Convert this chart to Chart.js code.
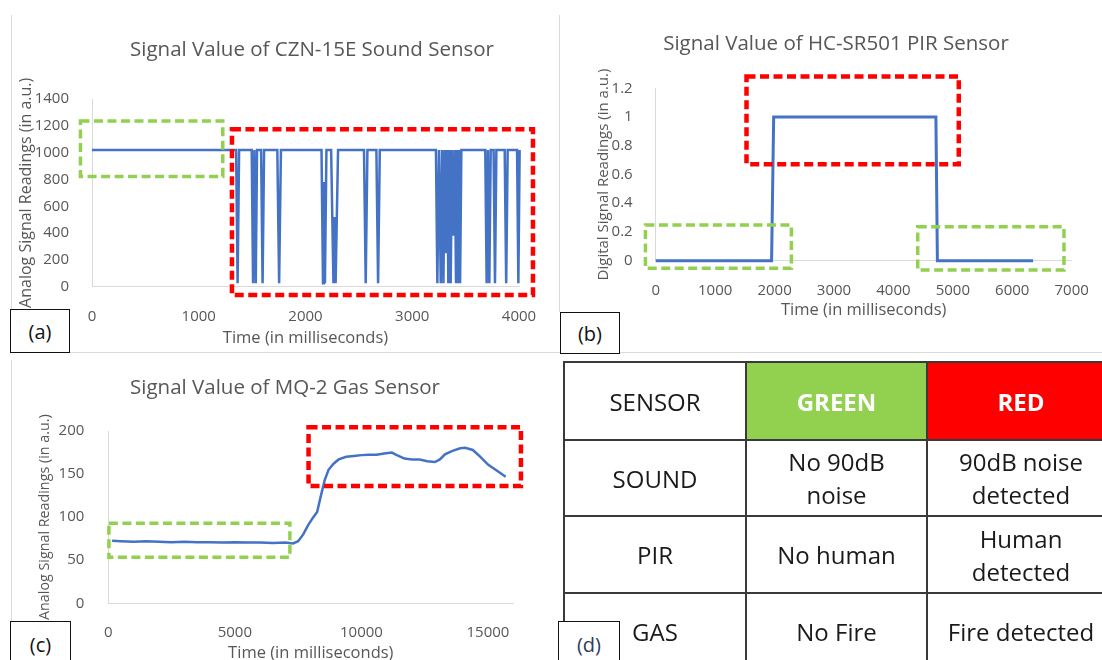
<!DOCTYPE html>
<html>
<head>
<meta charset="utf-8">
<script src="https://cdn.jsdelivr.net/npm/chart.js@4.4.1/dist/chart.umd.min.js"></script>
<style>
  body { margin: 0; width: 1102px; height: 660px; overflow: hidden; background: #fff; position: relative; font-family: "Open Sans", sans-serif; }
  canvas { position: absolute; }
  .rule { position: absolute; background: #d9d9d9; }
  .tag { position: absolute; box-sizing: border-box; border: 1.5px solid #111; background: #fff; font-size: 20px; color: #111;
         display: flex; align-items: center; justify-content: center; }
  table { position: absolute; left: 563px; top: 361px; width: 551px; border-collapse: collapse; table-layout: fixed; }
  td { border: 2px solid #3a3a3a; padding: 0; text-align: center; vertical-align: middle; font-size: 24px; line-height: 33px; color: #1a1a1a; }
  td.green { background: #92d050; color: #fff; font-weight: bold; }
  td.red { background: #ff0000; color: #fff; font-weight: bold; }
</style>
</head>
<body>
<div class="rule" style="left:11px;top:15px;width:1px;height:295px"></div>
<div class="rule" style="left:10px;top:352px;width:1092px;height:1px"></div>
<div class="rule" style="left:559px;top:15px;width:1px;height:297px"></div>
<div class="rule" style="left:11px;top:360px;width:1px;height:262px"></div>

<canvas id="soundChart"></canvas>
<canvas id="pirChart"></canvas>
<canvas id="gasChart"></canvas>
<table id="stateTable"></table>

<div class="tag" style="left:10px;top:309px;width:60px;height:44px">(a)</div>
<div class="tag" style="left:560px;top:312px;width:60px;height:42px">(b)</div>
<div class="tag" style="left:10px;top:621px;width:61px;height:50px;padding-bottom:4px">(c)</div>
<div class="tag" style="left:558px;top:621px;width:62px;height:50px;padding-bottom:4px;color:#2e3b63">(d)</div>

<script>
// sound sensor (a): time in ms, analog reading
const soundTime = [0, 1350, 1364, 1378,
  1496, 1509, 1521, 1534, 1546, 1584, 1598, 1612,
  1736, 1753, 1770,
  2150, 2164, 2172, 2182, 2196,
  2240, 2262, 2270, 2282, 2305,
  2548, 2564, 2580,
  2664, 2680, 2696,
  3222, 3235, 3251, 3267, 3280, 3292, 3304, 3316, 3327, 3338, 3349, 3360, 3373, 3385, 3398, 3410, 3421, 3432, 3440, 3448, 3460,
  3684, 3697, 3709, 3722, 3735,
  3762, 3775, 3788,
  3866, 3880, 3894,
  3982, 3994, 4006];
const soundValue = [1020, 1020, 25, 1020,
  1020, 25, 1020, 25, 1020, 1020, 25, 1020,
  1020, 25, 1020,
  1020, 25, 780, 25, 1020,
  1020, 25, 520, 25, 1020,
  1020, 25, 1020,
  1020, 25, 1020,
  1020, 25, 1020, 25, 1020, 25, 1020, 250, 1020, 25, 1020, 25, 1020, 380, 1020, 25, 1020, 25, 1020, 25, 1020,
  1020, 25, 1020, 25, 1020,
  1020, 25, 1020,
  1020, 25, 1020,
  1020, 25, 1020];

// PIR sensor (b): digital reading
const pirTime = [0, 1950, 1985, 4715, 4740, 6350];
const pirValue = [0, 0, 1, 1, 0, 0];

// gas sensor (c): analog reading
const gasTime = [150, 500, 1000, 1500, 2000, 2500, 3000, 3500, 4000, 4500, 5000, 5500, 6000, 6500, 7000, 7300,
  7500, 7700, 7900, 8100, 8250, 8400, 8550, 8700, 8900, 9100, 9400, 9700, 10000, 10300, 10600, 10900,
  11200, 11400, 11700, 12000, 12300, 12600, 12900, 13100, 13300, 13600, 13900, 14100, 14400, 14700, 15000, 15300, 15700];
const gasValue = [72.5, 72, 71.5, 72, 71.5, 71, 71.5, 71, 71, 70.5, 71, 70.5, 70.5, 70, 70.5, 69.5,
  72, 80, 91, 100, 106, 125, 143, 155, 162, 167, 170, 171, 172, 172.5, 172.5, 174,
  175, 172, 168, 167, 167, 165, 164, 167, 173, 177, 180, 180.5, 178, 170, 161, 155, 147];

// axis ticks
const soundXTicks = [0, 1000, 2000, 3000, 4000];
const soundYTicks = [0, 200, 400, 600, 800, 1000, 1200, 1400];
const pirXTicks = [0, 1000, 2000, 3000, 4000, 5000, 6000, 7000];
const pirYTicks = [0, 0.2, 0.4, 0.6, 0.8, 1, 1.2];
const gasXTicks = [0, 5000, 10000, 15000];
const gasYTicks = [0, 50, 100, 150, 200];

// highlight boxes: [xMin, xMax, yMin, yMax] in data units
const soundGreenBox = [-108, 1225, 822, 1236];
const soundRedBox = [1311, 4131, -62, 1174];
const pirRedBox = [1528, 5100, 0.672, 1.282];
const pirGreenBoxA = [-173, 2283, -0.053, 0.249];
const pirGreenBoxB = [4409, 6870, -0.065, 0.237];
const gasGreenBox = [24, 7174, 53.4, 92.9];
const gasRedBox = [7911, 16302, 136.2, 204.3];

// table (d)
const tableHead = ["SENSOR", "GREEN", "RED"];
const sensorNames = ["SOUND", "PIR", "GAS"];
const greenStates = [["No 90dB", "noise"], ["No human"], ["No Fire"]];
const redStates = [["90dB noise", "detected"], ["Human", "detected"], ["Fire detected"]];

const green = "#92d050";
const red = "#ff0000";

Chart.defaults.font.family = '"Open Sans", sans-serif';
Chart.defaults.color = "#575757";

const titleSize = 20.5, axisTitleSize = 16.5, tickSize = 15;

function boxPlugin(boxes) {
  return {
    id: "dashBoxes",
    afterDatasetsDraw(chart) {
      const ctx = chart.ctx, x = chart.scales.x, y = chart.scales.y;
      ctx.save();
      ctx.setLineDash([9, 4.5]);
      boxes.forEach(b => {
        const left = x.getPixelForValue(b.range[0]), right = x.getPixelForValue(b.range[1]);
        const top = y.getPixelForValue(b.range[3]), bottom = y.getPixelForValue(b.range[2]);
        ctx.strokeStyle = b.color;
        ctx.lineWidth = b.color === red ? 4.5 : 3.5;
        ctx.strokeRect(left, top, right - left, bottom - top);
      });
      ctx.restore();
    }
  };
}

// g = where things sit on the page, t = what is drawn
function sensorChart(id, g, t) {
  const canvas = document.getElementById(id);
  canvas.style.left = g.left + "px";
  canvas.style.top = g.top + "px";
  canvas.width = g.width;
  canvas.height = g.height;
  const titleLH = titleSize * 1.2, axisLH = axisTitleSize * 1.2, tickLH = tickSize * 1.2, yTitleLH = t.yTitleSize * 1.2;
  const xHeight = g.xTitleY - g.plot.bottom + axisLH / 2 + 4;
  const fmt = v => String(+(+v).toFixed(1));

  return new Chart(canvas, {
    type: "line",
    data: {
      datasets: [{
        data: t.x.map((v, i) => ({ x: v, y: t.y[i] })),
        borderColor: "#4472c4",
        borderWidth: t.lineWidth,
        pointRadius: 0,
        tension: 0,
        clip: false
      }]
    },
    options: {
      responsive: false,
      animation: false,
      events: [],
      layout: { padding: { left: 0, right: 0, top: 0, bottom: g.height - (g.plot.bottom - g.top) - xHeight } },
      plugins: {
        legend: { display: false },
        tooltip: { enabled: false },
        title: {
          display: true,
          text: t.title,
          font: { size: titleSize, weight: "normal" },
          padding: { top: g.titleY - g.top - titleLH / 2, bottom: g.plot.top - g.titleY - titleLH / 2 }
        }
      },
      scales: {
        x: {
          type: "linear",
          min: t.xTicks[0],
          max: t.xMax,
          grid: { display: false },
          border: { color: "#d9d9d9" },
          afterBuildTicks: s => { s.ticks = t.xTicks.map(v => ({ value: v })); },
          ticks: { padding: g.xLabelY - g.plot.bottom - tickLH / 2, maxRotation: 0, autoSkip: false, callback: fmt, font: { size: tickSize } },
          title: { display: true, text: "Time (in milliseconds)", font: { size: axisTitleSize }, padding: { top: 0, bottom: 4 } },
          afterFit: s => { s.height = xHeight; }
        },
        y: {
          type: "linear",
          min: t.yTicks[0],
          max: t.yTicks[t.yTicks.length - 1],
          grid: { display: false },
          border: { color: "#d9d9d9" },
          afterBuildTicks: s => { s.ticks = t.yTicks.map(v => ({ value: v })); },
          ticks: { padding: g.yPad, autoSkip: false, callback: fmt, font: { size: tickSize } },
          title: { display: true, text: t.yTitle, font: { size: t.yTitleSize }, padding: { top: g.yTitleX - g.left - yTitleLH / 2, bottom: 0 } },
          afterFit: s => { s.width = g.plot.left - g.left; }
        },
        pad: {
          type: "linear",
          position: "right",
          grid: { display: false },
          border: { display: false },
          ticks: { display: false },
          afterFit: s => { s.width = g.left + g.width - g.plot.right; }
        }
      }
    },
    plugins: [boxPlugin(t.boxes)]
  });
}

sensorChart("soundChart",
  { left: 12, top: 15, width: 600, height: 340, plot: { left: 92, right: 519, top: 99, bottom: 286.7 },
    titleY: 50, yTitleX: 26.7, yPad: 15, xLabelY: 309, xTitleY: 338 },
  { x: soundTime, y: soundValue, lineWidth: 2.5, xTicks: soundXTicks, xMax: 4000, yTicks: soundYTicks,
    title: "Signal Value of CZN-15E Sound Sensor", yTitle: "Analog Signal Readings (in a.u.)", yTitleSize: 16,
    boxes: [{ range: soundGreenBox, color: green }, { range: soundRedBox, color: red }] });

sensorChart("pirChart",
  { left: 570, top: 15, width: 532, height: 340, plot: { left: 655.7, right: 1071.7, top: 88.3, bottom: 260.7 },
    titleY: 44, yTitleX: 603.3, yPad: 15, xLabelY: 282.3, xTitleY: 310 },
  { x: pirTime, y: pirValue, lineWidth: 3, xTicks: pirXTicks, xMax: 7000, yTicks: pirYTicks,
    title: "Signal Value of HC-SR501 PIR Sensor", yTitle: "Digital Signal Readings (in a.u.)", yTitleSize: 15,
    boxes: [{ range: pirRedBox, color: red }, { range: pirGreenBoxA, color: green }, { range: pirGreenBoxB, color: green }] });

sensorChart("gasChart",
  { left: 12, top: 360, width: 546, height: 310, plot: { left: 108.3, right: 513.3, top: 431, bottom: 603.3 },
    titleY: 388, yTitleX: 45, yPad: 16, xLabelY: 624.3, xTitleY: 653 },
  { x: gasTime, y: gasValue, lineWidth: 2.5, xTicks: gasXTicks, xMax: 16000, yTicks: gasYTicks,
    title: "Signal Value of MQ-2 Gas Sensor", yTitle: "Analog Signal Readings (in a.u.)", yTitleSize: 14.3,
    boxes: [{ range: gasGreenBox, color: green }, { range: gasRedBox, color: red }] });

// table (d)
const table = document.getElementById("stateTable");
[182, 181, 188].forEach(w => {
  const col = document.createElement("col");
  col.style.width = w + "px";
  table.appendChild(col);
});
const rowHeights = [78, 76, 77, 77];
function addRow(cells, classes, h) {
  const tr = document.createElement("tr");
  tr.style.height = h + "px";
  cells.forEach((lines, i) => {
    const td = document.createElement("td");
    if (classes[i]) td.className = classes[i];
    [].concat(lines).forEach((line, k) => {
      if (k) td.appendChild(document.createElement("br"));
      td.appendChild(document.createTextNode(line));
    });
    tr.appendChild(td);
  });
  table.appendChild(tr);
}
addRow(tableHead, ["", "green", "red"], rowHeights[0]);
sensorNames.forEach((name, i) => addRow([name, greenStates[i], redStates[i]], [], rowHeights[i + 1]));
</script>
</body>
</html>
